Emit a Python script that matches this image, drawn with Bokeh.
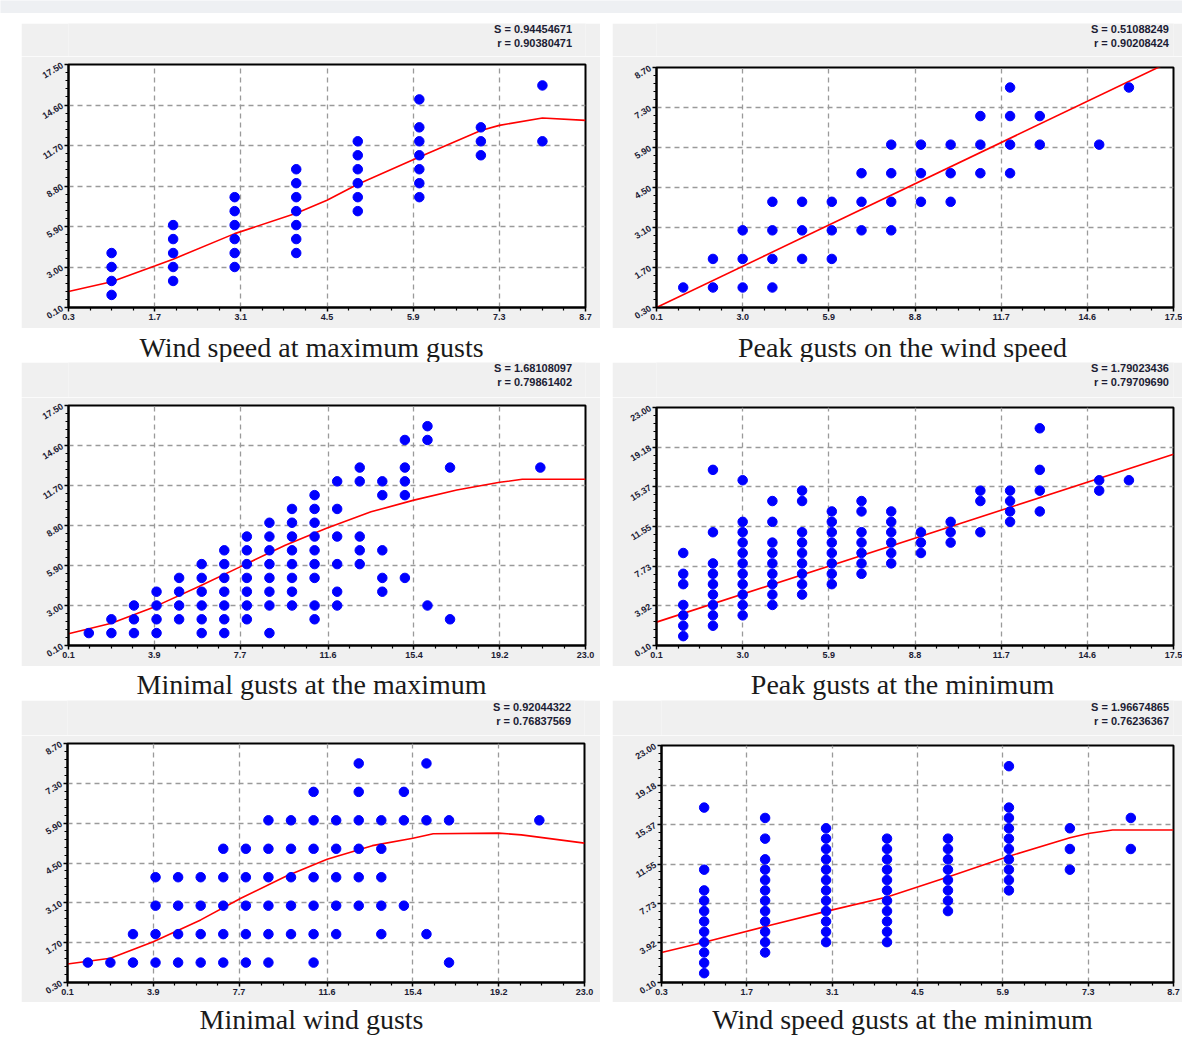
import numpy as np
from bokeh.plotting import figure
from bokeh.layouts import column, row
from bokeh.models import Range1d, FixedTicker
from bokeh.core.properties import value
from bokeh.embed import file_html
from bokeh.resources import INLINE

# ---------------- data ----------------
# A: wind speed vs gusts at maximum (panel 1: x=wind, y=gust; panel 2 swapped)
wind_a = [1, 1, 1, 1, 2, 2, 2, 2, 2, 3, 3, 3, 3, 3, 3, 4, 4, 4, 4, 4, 4, 4,
          5, 5, 5, 5, 5, 5, 6, 6, 6, 6, 6, 6, 6, 7, 7, 7, 8, 8]
gust_a = [1, 2, 3, 4, 2, 3, 4, 5, 6, 3, 4, 5, 6, 7, 8, 4, 5, 6, 7, 8, 9, 10,
          7, 8, 9, 10, 11, 12, 8, 9, 10, 11, 12, 13, 15, 11, 12, 13, 12, 16]

# B: gusts at maximum vs gusts at minimum (panel 3: x=peak, y=low; panel 4 swapped)
peak_b = [1, 2, 2, 3, 3, 3, 4, 4, 4, 4, 5, 5, 5, 5, 6, 6, 6, 6, 6, 6,
          7, 7, 7, 7, 7, 7, 7, 8, 8, 8, 8, 8, 8, 8, 9, 9, 9, 9, 9, 9, 9, 9,
          10, 10, 10, 10, 10, 10, 10, 10, 11, 11, 11, 11, 11, 11, 11, 11, 11,
          12, 12, 12, 12, 12, 12, 13, 13, 13, 13, 13, 14, 14, 14, 14, 14,
          15, 15, 15, 15, 15, 16, 16, 16, 17, 17, 21]
low_b = [1, 1, 2, 1, 2, 3, 1, 2, 3, 4, 2, 3, 4, 5, 1, 2, 3, 4, 5, 6,
         1, 2, 3, 4, 5, 6, 7, 2, 3, 4, 5, 6, 7, 8, 1, 3, 4, 5, 6, 7, 8, 9,
         3, 4, 5, 6, 7, 8, 9, 10, 2, 3, 5, 6, 7, 8, 9, 10, 11,
         3, 4, 6, 8, 10, 12, 6, 7, 8, 12, 13, 4, 5, 7, 11, 12,
         5, 11, 12, 13, 15, 3, 15, 16, 2, 13, 13]

# C: gusts at minimum vs wind speed (panel 5: x=gust, y=wind; panel 6 swapped)
gust_c = [1, 2, 3, 4, 5, 6, 7, 8, 9, 11, 17,
          3, 4, 5, 6, 7, 8, 9, 10, 11, 12, 14, 16,
          4, 5, 6, 7, 8, 9, 10, 11, 12, 13, 14, 15,
          4, 5, 6, 7, 8, 9, 10, 11, 12, 13, 14,
          7, 8, 9, 10, 11, 12, 13, 14,
          9, 10, 11, 12, 13, 14, 15, 16, 17, 21,
          11, 13, 15,
          13, 16]
wind_c = [1, 1, 1, 1, 1, 1, 1, 1, 1, 1, 1,
          2, 2, 2, 2, 2, 2, 2, 2, 2, 2, 2, 2,
          3, 3, 3, 3, 3, 3, 3, 3, 3, 3, 3, 3,
          4, 4, 4, 4, 4, 4, 4, 4, 4, 4, 4,
          5, 5, 5, 5, 5, 5, 5, 5,
          6, 6, 6, 6, 6, 6, 6, 6, 6, 6,
          7, 7, 7,
          8, 8]

# fitted curves
fit1_x = [0.3, 1.0, 1.7, 2.0, 3.0, 4.0, 4.5, 5.0, 6.0, 7.0, 7.3, 8.0, 8.7]
fit1_y = [1.25, 1.95, 3.07, 3.56, 5.39, 6.85, 7.78, 8.92, 10.87, 12.77, 13.14, 13.67, 13.5]
fit2_x = [0.1, 17.5]
fit2_y = [0.30, 8.96]
fit3_x = [0.1, 2.0, 3.9, 5.9, 7.7, 9.7, 11.5, 13.5, 15.4, 17.3, 19.2, 20.2, 23.0]
fit3_y = [0.95, 1.72, 2.9, 4.4, 5.8, 7.37, 8.58, 9.79, 10.64, 11.37, 11.93, 12.15, 12.15]
fit4_x = [0.1, 17.5]
fit4_y = [2.35, 18.5]
fit5_x = [0.1, 2.0, 3.9, 6.0, 7.8, 9.8, 11.6, 13.6, 15.4, 16.3, 19.2, 20.2, 23.0]
fit5_y = [0.95, 1.15, 1.73, 2.5, 3.27, 4.04, 4.63, 5.11, 5.37, 5.53, 5.55, 5.49, 5.2]
fit6_x = [0.3, 1.0, 2.0, 3.0, 4.0, 5.0, 6.0, 7.0, 7.3, 7.7, 8.7]
fit6_y = [3.0, 3.99, 5.51, 6.97, 8.36, 10.3, 12.3, 14.09, 14.5, 14.83, 14.83]

# tick labels
ticks_wind_x = ["0.3", "1.7", "3.1", "4.5", "5.9", "7.3", "8.7"]
ticks_wind_y = ["0.30", "1.70", "3.10", "4.50", "5.90", "7.30", "8.70"]
ticks_g17_x = ["0.1", "3.0", "5.9", "8.8", "11.7", "14.6", "17.5"]
ticks_g17_y = ["0.10", "3.00", "5.90", "8.80", "11.70", "14.60", "17.50"]
ticks_g23_x = ["0.1", "3.9", "7.7", "11.6", "15.4", "19.2", "23.0"]
ticks_g23_y = ["0.10", "3.92", "7.73", "11.55", "15.37", "19.18", "23.00"]

titles = ["Wind speed at maximum gusts", "Peak gusts on the wind speed",
          "Minimal gusts at the maximum", "Peak gusts at the minimum",
          "Minimal wind gusts", "Wind speed gusts at the minimum"]
stats_s = ["0.94454671", "0.51088249", "1.68108097", "1.79023436", "0.92044322", "1.96674865"]
stats_r = ["0.90380471", "0.90208424", "0.79861402", "0.79709690", "0.76837569", "0.76236367"]

GREY = "#f0f0f0"
LABEL_COLOR = "#1c1c34"


def minor(ticks, n):
    out = []
    for a, b in zip(ticks[:-1], ticks[1:]):
        out.extend(np.linspace(a, b, n + 1)[1:-1].tolist())
    return out


def blank(width, height, color):
    f = figure(width=width, height=height, title=None,
               x_range=Range1d(0, width), y_range=Range1d(0, height),
               toolbar_location=None, output_backend="svg", min_border=0,
               x_axis_type=None, y_axis_type=None)
    f.outline_line_color = None
    f.border_fill_color = color
    f.background_fill_color = color
    return f


def make_stats(s_txt, r_txt, width, height, br, top_s, top_r):
    f = blank(width, height, GREY)
    f.text(x=[width - br, width - br], y=[height - top_s, height - top_r],
           text=["S = " + s_txt, "r = " + r_txt], text_align="right",
           text_baseline="middle", text_font=value("Liberation Sans"),
           text_font_size="11px", text_font_style="bold", text_color=LABEL_COLOR)
    return f


def make_panel(xs, ys, fx, fy, xlab, ylab, width, height, bl, br, bt, bb):
    xt = [float(v) for v in xlab]
    yt = [float(v) for v in ylab]
    p = figure(width=width, height=height, title=None,
               x_range=Range1d(xt[0], xt[-1]), y_range=Range1d(yt[0], yt[-1]),
               toolbar_location=None, output_backend="svg",
               min_border_left=bl, min_border_right=br,
               min_border_top=bt, min_border_bottom=bb)
    p.border_fill_color = GREY
    p.background_fill_color = "white"
    p.outline_line_color = "black"
    p.outline_line_width = 2

    p.xaxis.ticker = FixedTicker(ticks=xt, minor_ticks=minor(xt, 4))
    p.yaxis.ticker = FixedTicker(ticks=yt, minor_ticks=minor(yt, 5))
    p.xaxis.major_label_overrides = {t: l for t, l in zip(xt, xlab)}
    p.yaxis.major_label_overrides = {t: l for t, l in zip(yt, ylab)}
    for ax in (p.xaxis, p.yaxis):
        ax.axis_line_color = "black"
        ax.axis_line_width = 2
        ax.major_tick_line_color = "black"
        ax.major_tick_line_width = 1.5
        ax.minor_tick_line_color = "black"
        ax.minor_tick_line_width = 1.2
        ax.major_tick_out = 4
        ax.major_tick_in = 0
        ax.minor_tick_out = 3
        ax.minor_tick_in = 0
        ax.major_label_text_font = "Liberation Sans"
        ax.major_label_text_font_style = "bold"
        ax.major_label_text_font_size = "9px"
        ax.major_label_text_color = LABEL_COLOR
        ax.major_label_standoff = 2
    p.yaxis.major_label_orientation = 0.55

    for g in (p.xgrid, p.ygrid):
        g.grid_line_color = "#9a9a9a"
        g.grid_line_dash = "5 4"
        g.grid_line_width = 1.3

    p.line(fx, fy, line_color="#ff0000", line_width=1.6)
    p.scatter(xs, ys, size=9.5, fill_color="#0000ff", line_color="#0000ff")
    return p


def make_title(text, width, height, cx, mid):
    t = blank(width, height, "white")
    t.text(x=[cx], y=[mid], text=[text], text_align="center",
           text_baseline="middle", text_font=value("Liberation Serif"),
           text_font_size="28px", text_color="#1a1a1a")
    return t


LW, RW = 579, 570
LBL, LBR = 47, 15
RBL, RBR = 44, 9

# row 1
s1 = make_stats(stats_s[0], stats_r[0], LW, 33, LBR, 5, 19)
s2 = make_stats(stats_s[1], stats_r[1], RW, 33, RBR - 4, 5, 19)
p1 = make_panel(wind_a, gust_a, fit1_x, fit1_y, ticks_wind_x, ticks_g17_y, LW, 272, LBL, LBR, 8, 21)
p2 = make_panel(gust_a, wind_a, fit2_x, fit2_y, ticks_g17_x, ticks_wind_y, RW, 272, RBL, RBR, 11, 21)
# row 2
s3 = make_stats(stats_s[2], stats_r[2], LW, 35, LBR, 5, 19)
s4 = make_stats(stats_s[3], stats_r[3], RW, 35, RBR - 4, 5, 19)
p3 = make_panel(peak_b, low_b, fit3_x, fit3_y, ticks_g23_x, ticks_g17_y, LW, 269, LBL, LBR, 8, 21)
p4 = make_panel(low_b, peak_b, fit4_x, fit4_y, ticks_g17_x, ticks_g23_y, RW, 269, RBL, RBR, 10, 21)
# row 3
s5 = make_stats(stats_s[4], stats_r[4], LW, 35, LBR, 6, 20)
s6 = make_stats(stats_s[5], stats_r[5], RW, 35, RBR - 4, 6, 20)
p5 = make_panel(gust_c, wind_c, fit5_x, fit5_y, ticks_g23_x, ticks_wind_y, LW, 267, LBL - 1, LBR + 1, 8, 20)
p6 = make_panel(wind_c, gust_c, fit6_x, fit6_y, ticks_wind_x, ticks_g23_y, RW, 267, RBL + 5, RBR, 10, 20)

t1 = make_title(titles[0], LW, 34, 290, 15)
t2 = make_title(titles[1], RW, 34, 290, 15)
t3 = make_title(titles[2], LW, 34, 290, 16)
t4 = make_title(titles[3], RW, 34, 290, 16)
t5 = make_title(titles[4], LW, 35, 290, 18)
t6 = make_title(titles[5], RW, 35, 290, 18)

strip = blank(1182, 13, "#eef0f3")


def prow(a, b, h):
    return row(blank(21, h, "white"), a, blank(12, h, "white"), b)


layout = column(strip, blank(1182, 10, "white"),
                prow(column(s1, p1), column(s2, p2), 305), prow(t1, t2, 34),
                prow(column(s3, p3), column(s4, p4), 304), prow(t3, t4, 34),
                prow(column(s5, p5), column(s6, p6), 302), prow(t5, t6, 35))

open("out.html", "w").write(file_html(layout, INLINE))
